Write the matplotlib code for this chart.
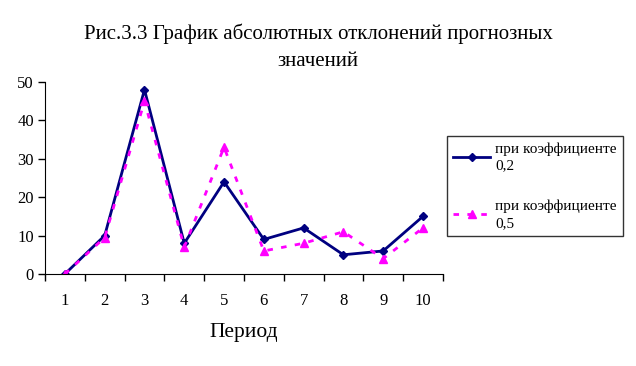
import numpy as np
import matplotlib.pyplot as plt

plt.rcParams['font.family'] = ['Liberation Serif', 'DejaVu Serif']

periods = [1, 2, 3, 4, 5, 6, 7, 8, 9, 10]
coef_02 = [0, 10, 48, 8, 24, 9, 12, 5, 6, 15]
coef_05 = [0, 9.5, 45, 7, 33, 6, 8, 11, 4, 12]
labels = ['при коэффициенте\n0,2', 'при коэффициенте\n0,5']

fig = plt.figure(figsize=(6.36, 3.66), dpi=100)
ax = fig.add_axes([0.0708, 0.2514, 0.6255, 0.5246])

ax.plot(periods, coef_02, color='#000080', lw=2, marker='D', ms=4, label=labels[0])
ax.plot(periods, coef_05, color='#FF00FF', lw=2, ls=(0, (2, 3)), marker='^', ms=6,
        label=labels[1])

ax.set_xlim(0.5, 10.5)
ax.set_ylim(0, 50)
ax.set_yticks([0, 10, 20, 30, 40, 50])
ax.set_xticks(periods)
ax.set_xticks(np.arange(0.5, 11, 1), minor=True)
ax.tick_params(axis='x', which='major', length=0, pad=14, labelsize=12)
ax.tick_params(axis='x', which='minor', length=5, width=1)
ax.tick_params(axis='y', length=5, width=1, labelsize=12, pad=3)
for s in ['top', 'right']:
    ax.spines[s].set_visible(False)
ax.set_xlabel('Период', fontsize=15.5, labelpad=10)

fig.suptitle('Рис.3.3 График абсолютных отклонений прогнозных\nзначений',
             x=0.5, y=0.935, fontsize=15, linespacing=1.55)

leg = fig.legend(loc='upper left', bbox_to_anchor=(0.703, 0.628), fontsize=11,
                 frameon=True, fancybox=False, edgecolor='black',
                 handlelength=2.4, labelspacing=1.8, borderpad=0.4, handletextpad=0.35,
                 borderaxespad=0)
leg.get_frame().set_linewidth(1)
for t in leg.get_texts():
    t.set_linespacing(1.35)

fig.savefig('out.png', dpi=100)
